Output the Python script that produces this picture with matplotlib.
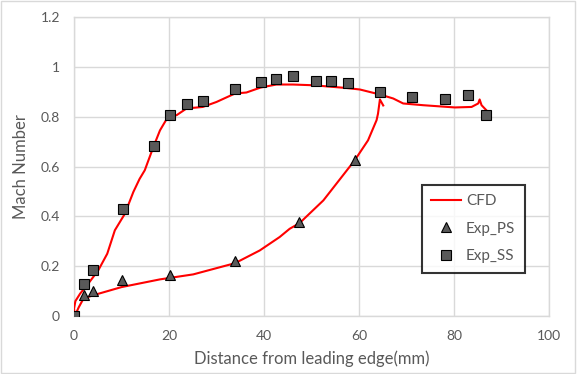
import matplotlib
matplotlib.use('Agg')
import matplotlib.pyplot as plt
from matplotlib.patches import Rectangle

plt.rcParams['font.family'] = ['Lato', 'DejaVu Sans']

# ---- CFD line: PS trailing edge -> leading edge -> SS trailing edge ----
cfd_x = [65.1, 64.4, 64.0, 63.7, 61.9, 59.1, 52.5, 47.5, 45.4, 43.3, 39.1, 33.9, 25.1, 18.1,
         10.0, 4.0, 2.0, 1.0, 0.4, 0.1, 0.0, 0.3, 1.3, 3.0, 5.1, 7.0, 8.6, 10.7, 12.5, 13.8,
         14.9, 16.7, 18.1, 19.8, 21.6, 23.7, 27.1, 30.0, 33.9, 36.3, 39.3, 42.6, 46.1, 50.4,
         57.4, 60.2, 64.4, 67.2, 69.3, 73.5, 80.2, 83.7, 85.1, 85.4, 85.8, 86.8]
cfd_y = [0.845, 0.869, 0.812, 0.786, 0.705, 0.625, 0.464, 0.373, 0.35, 0.317, 0.263, 0.212,
         0.167, 0.147, 0.116, 0.083, 0.07, 0.035, 0.01, 0.005, 0.03, 0.06, 0.09, 0.13, 0.183,
         0.25, 0.344, 0.41, 0.498, 0.55, 0.585, 0.678, 0.745, 0.80, 0.806, 0.833, 0.839, 0.859,
         0.893, 0.897, 0.917, 0.929, 0.929, 0.926, 0.915, 0.909, 0.889, 0.873, 0.853, 0.846,
         0.837, 0.839, 0.853, 0.869, 0.846, 0.826]

# ---- experiment, pressure side ----
ps_x = [2.0, 4.0, 10.1, 20.3, 33.9, 47.3, 59.1]
ps_y = [0.085, 0.10, 0.143, 0.163, 0.219, 0.377, 0.628]

# ---- experiment, suction side ----
ss_x = [0.1, 2.2, 4.1, 10.3, 16.9, 20.3, 23.7, 27.1, 33.9, 39.3, 42.6, 46.0, 50.9, 54.2,
        57.6, 64.4, 71.2, 78.0, 82.9, 86.7]
ss_y = [0.0, 0.128, 0.183, 0.429, 0.684, 0.807, 0.849, 0.862, 0.910, 0.938, 0.951, 0.962,
        0.944, 0.942, 0.934, 0.90, 0.880, 0.870, 0.888, 0.807]

xticks = [0, 20, 40, 60, 80, 100]
yticks = [0, 0.2, 0.4, 0.6, 0.8, 1, 1.2]
ytick_labels = ['0', '0.2', '0.4', '0.6', '0.8', '1', '1.2']

txt = '#595959'
grid = '#d9d9d9'

fig = plt.figure(figsize=(5.77, 3.74), dpi=100)
ax = fig.add_axes([74 / 577, 1 - 316 / 374, 475 / 577, 299 / 374])

ax.plot(cfd_x, cfd_y, color='#ff0000', lw=1.5, label='CFD', zorder=3)
ax.plot(ps_x, ps_y, ls='none', marker='^', ms=7.5, mfc='#595959', mec='black', mew=0.8,
        label='Exp_PS', zorder=4)
ax.plot(ss_x, ss_y, ls='none', marker='s', ms=7, mfc='#595959', mec='black', mew=0.8,
        label='Exp_SS', zorder=4)

ax.set_xlim(0, 100)
ax.set_ylim(0, 1.2)
ax.set_xticks(xticks)
ax.set_yticks(yticks)
ax.set_yticklabels(ytick_labels)
ax.grid(True, color=grid, lw=1)
ax.set_axisbelow(True)
for s in ax.spines.values():
    s.set_color(grid)
    s.set_linewidth(1)
ax.tick_params(length=0, colors=txt, labelsize=10, pad=10)

ax.set_xlabel('Distance from leading edge(mm)', color=txt, fontsize=12, labelpad=6)
ax.set_ylabel('Mach Number', color=txt, fontsize=12, labelpad=8)

leg = ax.legend(loc='upper left', bbox_to_anchor=(0.732, 0.439), fontsize=11,
                frameon=True, fancybox=False, handlelength=2.0, handletextpad=0.3,
                labelspacing=0.9, borderpad=0.6, borderaxespad=0, labelcolor=txt)
leg.get_frame().set_edgecolor('black')
leg.get_frame().set_linewidth(1.5)

# light border round the whole chart
fig.patches.append(Rectangle((0.002, 0.003), 0.995, 0.993, transform=fig.transFigure,
                             fill=False, edgecolor=grid, lw=1))

fig.savefig('out.png', dpi=100)
